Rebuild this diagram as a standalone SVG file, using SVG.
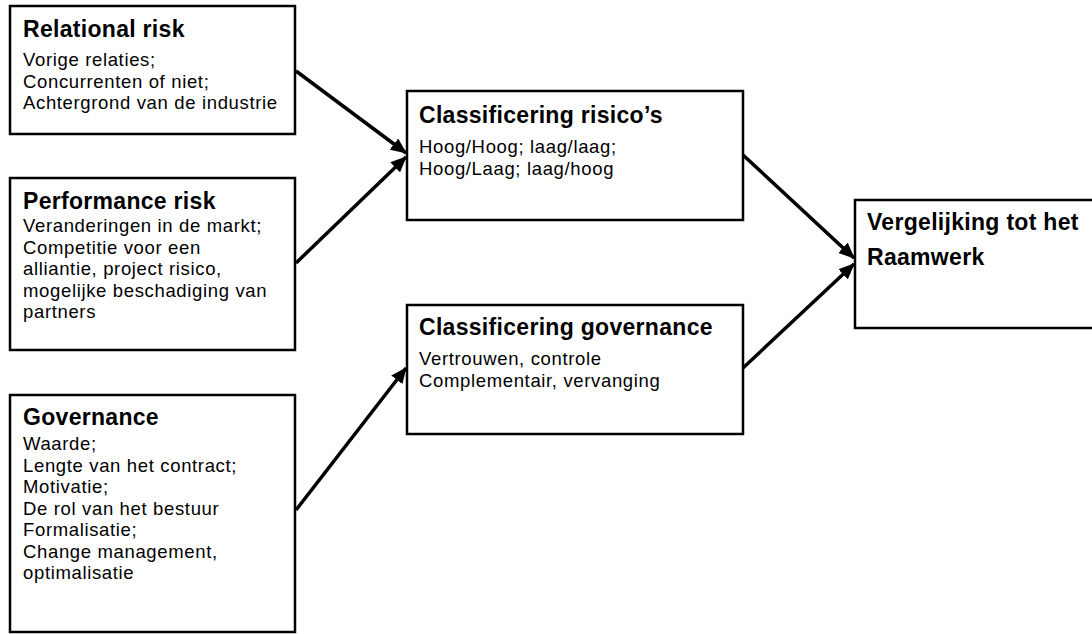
<svg xmlns="http://www.w3.org/2000/svg" width="1092" height="634" viewBox="0 0 1092 634">
  <style>
    text { font-family: "Liberation Sans", Arial, sans-serif; fill: #000000; }
    .box { fill: #ffffff; stroke: #000000; stroke-width: 2.5; }
    .title { font-weight: bold; font-size: 23px; letter-spacing: 0.3px; }
    .body { font-size: 18.5px; letter-spacing: 0.65px; }
    .link { fill: none; stroke: #000000; stroke-width: 3.5; marker-end: url(#arrow); }
  </style>
  <defs>
    <marker id="arrow" markerUnits="userSpaceOnUse" markerWidth="16" markerHeight="14" refX="15" refY="7" orient="auto">
      <path d="M0,0 L16,7 L0,14 Z" fill="#000000"/>
    </marker>
  </defs>
  <rect width="1092" height="634" fill="#ffffff"/>

  <g id="connectors">
    <line class="link" x1="296" y1="71" x2="406" y2="153"/>
    <line class="link" x1="296" y1="263" x2="406" y2="157"/>
    <line class="link" x1="296" y1="510" x2="406" y2="368"/>
    <line class="link" x1="743" y1="155" x2="854" y2="258"/>
    <line class="link" x1="743" y1="368" x2="854" y2="264"/>
  </g>

  <g id="relational-risk">
    <rect class="box" x="10" y="6" width="285" height="128"/>
    <text class="title" x="23" y="37">Relational risk</text>
    <text class="body" x="23" y="66">Vorige relaties;<tspan x="23" dy="21.5">Concurrenten of niet;</tspan><tspan x="23" dy="21.5">Achtergrond van de industrie</tspan></text>
  </g>

  <g id="performance-risk">
    <rect class="box" x="10" y="178" width="285" height="172"/>
    <text class="title" x="23" y="209">Performance risk</text>
    <text class="body" x="23" y="232">Veranderingen in de markt;<tspan x="23" dy="21.5">Competitie voor een</tspan><tspan x="23" dy="21.5">alliantie, project risico,</tspan><tspan x="23" dy="21.5">mogelijke beschadiging van</tspan><tspan x="23" dy="21.5">partners</tspan></text>
  </g>

  <g id="governance">
    <rect class="box" x="10" y="395" width="285" height="237"/>
    <text class="title" x="23" y="425">Governance</text>
    <text class="body" x="23" y="450">Waarde;<tspan x="23" dy="21.5">Lengte van het contract;</tspan><tspan x="23" dy="21.5">Motivatie;</tspan><tspan x="23" dy="21.5">De rol van het bestuur</tspan><tspan x="23" dy="21.5">Formalisatie;</tspan><tspan x="23" dy="21.5">Change management,</tspan><tspan x="23" dy="21.5">optimalisatie</tspan></text>
  </g>

  <g id="classificering-risicos">
    <rect class="box" x="407" y="91" width="336" height="129"/>
    <text class="title" x="419" y="123">Classificering risico’s</text>
    <text class="body" x="419" y="153">Hoog/Hoog; laag/laag;<tspan x="419" dy="22">Hoog/Laag; laag/hoog</tspan></text>
  </g>

  <g id="classificering-governance">
    <rect class="box" x="407" y="305" width="336" height="129"/>
    <text class="title" x="419" y="335">Classificering governance</text>
    <text class="body" x="419" y="365">Vertrouwen, controle<tspan x="419" dy="22">Complementair, vervanging</tspan></text>
  </g>

  <g id="vergelijking">
    <rect class="box" x="855" y="200" width="250" height="128"/>
    <text class="title" x="867" y="230">Vergelijking tot het<tspan x="867" dy="35">Raamwerk</tspan></text>
  </g>
</svg>
